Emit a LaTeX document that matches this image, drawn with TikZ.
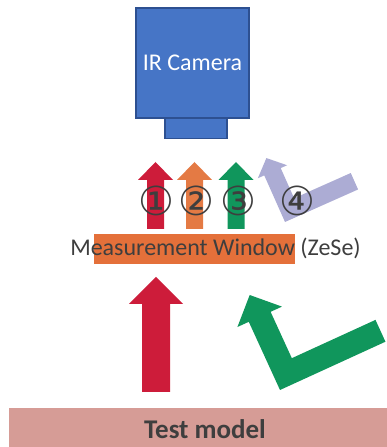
\documentclass[tikz,border=0pt]{standalone}
\usepackage{fontspec}
\setmainfont{Carlito}
\newfontfamily\circfont{DejaVu Sans}

\definecolor{camblue}{RGB}{70,117,198}
\definecolor{camedge}{RGB}{45,80,145}
\definecolor{arrowred}{RGB}{205,28,58}
\definecolor{arroworange}{RGB}{228,122,68}
\definecolor{arrowgreen}{RGB}{16,150,92}
\definecolor{arrowlav}{RGB}{172,172,212}
\definecolor{winorange}{RGB}{228,112,58}
\definecolor{modelpink}{RGB}{214,156,150}
\definecolor{textgray}{RGB}{62,62,62}

\begin{document}
\begin{tikzpicture}[x=1pt,y=1pt,
  camerabody/.style={draw=camedge,line width=1.4pt,fill=camblue,inner sep=0pt},
  windowbox/.style={fill=winorange,inner sep=0pt,minimum width=201pt,minimum height=30pt},
  modelbox/.style={fill=modelpink,inner sep=0pt,minimum width=378pt,minimum height=39pt},
  numlabel/.style={font=\circfont\fontsize{40}{40}\selectfont,text=textgray,inner sep=0pt}]

\useasboundingbox (0,0) rectangle (387,447);

% camera
\node[camerabody,minimum width=113pt,minimum height=110pt,text=white,
      font=\fontsize{24}{24}\selectfont] (camera) at (192.5,384) {IR Camera};
\node[camerabody,minimum width=62pt,minimum height=20pt,anchor=north] (lens) at (196,329) {};

% rays after the window
\foreach \cx/\col in {155.5/arrowred,194.5/arroworange,236/arrowgreen}{
  \fill[\col] (\cx-8.5,218) -- (\cx-8.5,267) -- (\cx-17.5,267) -- (\cx,285)
    -- (\cx+17.5,267) -- (\cx+8.5,267) -- (\cx+8.5,218) -- cycle;
}
\begin{scope}[shift={(285,225)},rotate=24]
\fill[arrowlav] (0,0) -- (0,51) -- (-7,51) -- (9,66) -- (25,51) -- (18,51)
  -- (18,18) -- (80,18) -- (80,0) -- cycle;
\end{scope}

\node[numlabel] (n1) at (156,246) {①};
\node[numlabel] (n2) at (196,246) {②};
\node[numlabel] (n3) at (238,246) {③};
\node[numlabel] (n4) at (297,246) {④};

% window
\node[windowbox] (window) at (194.5,198) {};
\node[anchor=base,text=textgray,font=\fontsize{24}{24}\selectfont] (wlabel) at (215.5,191)
  {Measurement Window (ZeSe)};

% rays from the model
\fill[arrowred] (142,55) -- (142,143) -- (129,143) -- (156,170) -- (183,143)
  -- (170,143) -- (170,55) -- cycle;
\begin{scope}[shift={(280,57)},rotate=24.6]
\fill[arrowgreen] (0,0) -- (0,75) -- (-12.5,75) -- (12,99) -- (36.5,75) -- (24,75)
  -- (24,24) -- (116,24) -- (116,0) -- cycle;
\end{scope}

% test model
\node[modelbox] (model) at (198,19.5) {};
\node[anchor=base,text=textgray,font=\bfseries\fontsize{27}{27}\selectfont] (mlabel) at (205,9)
  {Test model};

\end{tikzpicture}
\end{document}
